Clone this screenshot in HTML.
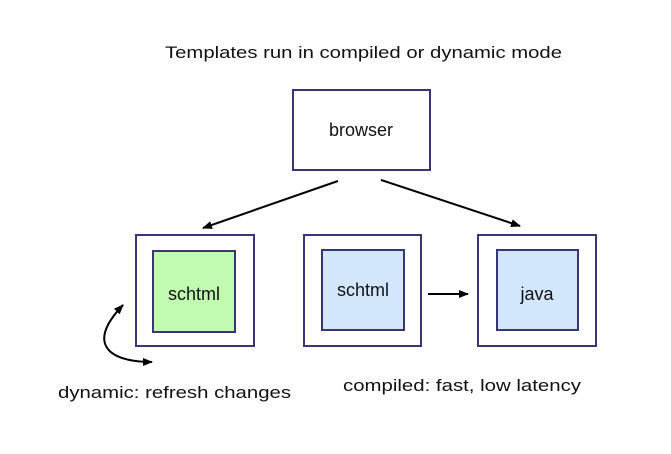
<!DOCTYPE html>
<html><head><style>html,body{margin:0;padding:0;background:#fff}</style></head>
<body>
<svg width="671" height="449" viewBox="0 0 671 449" xmlns="http://www.w3.org/2000/svg" font-family="Liberation Sans, sans-serif" font-size="17" fill="#111">
<defs><marker id="a" markerWidth="10" markerHeight="8" refX="9" refY="4" orient="auto-start-reverse" markerUnits="userSpaceOnUse"><path d="M0,0 L10,4 L0,8 z" fill="#000"/></marker></defs>
<text x="165" y="58" textLength="397" lengthAdjust="spacingAndGlyphs">Templates run in compiled or dynamic mode</text>
<g fill="none" stroke="#3a3577" stroke-width="2">
<rect x="293" y="90" width="137" height="80"/>
<rect x="136" y="235" width="118" height="111"/>
<rect x="304" y="235" width="117" height="111"/>
<rect x="478" y="235" width="118" height="111"/>
</g>
<rect x="153" y="251" width="82" height="81" fill="#c1fbb1" stroke="#3a3577" stroke-width="2"/>
<rect x="322" y="250" width="82" height="80" fill="#d2e7fb" stroke="#3a3577" stroke-width="2"/>
<rect x="497" y="250" width="81" height="80" fill="#d2e7fb" stroke="#3a3577" stroke-width="2"/>
<text x="361" y="136" text-anchor="middle" font-size="18">browser</text>
<text x="194" y="300" text-anchor="middle" font-size="18">schtml</text>
<text x="363" y="296" text-anchor="middle" font-size="18">schtml</text>
<text x="537" y="300" text-anchor="middle" font-size="18">java</text>
<g stroke="#000" stroke-width="2" fill="none">
<line x1="338" y1="181" x2="203" y2="228" marker-end="url(#a)"/>
<line x1="381" y1="180" x2="520" y2="226" marker-end="url(#a)"/>
<line x1="428" y1="294" x2="468" y2="294" marker-end="url(#a)"/>
<path d="M152,362 C110,362 85,345 123,305" marker-start="url(#a)" marker-end="url(#a)"/>
</g>
<text x="58" y="398" textLength="233" lengthAdjust="spacingAndGlyphs">dynamic: refresh changes</text>
<text x="343" y="391" textLength="238" lengthAdjust="spacingAndGlyphs">compiled: fast, low latency</text>
</svg>
</body></html>
